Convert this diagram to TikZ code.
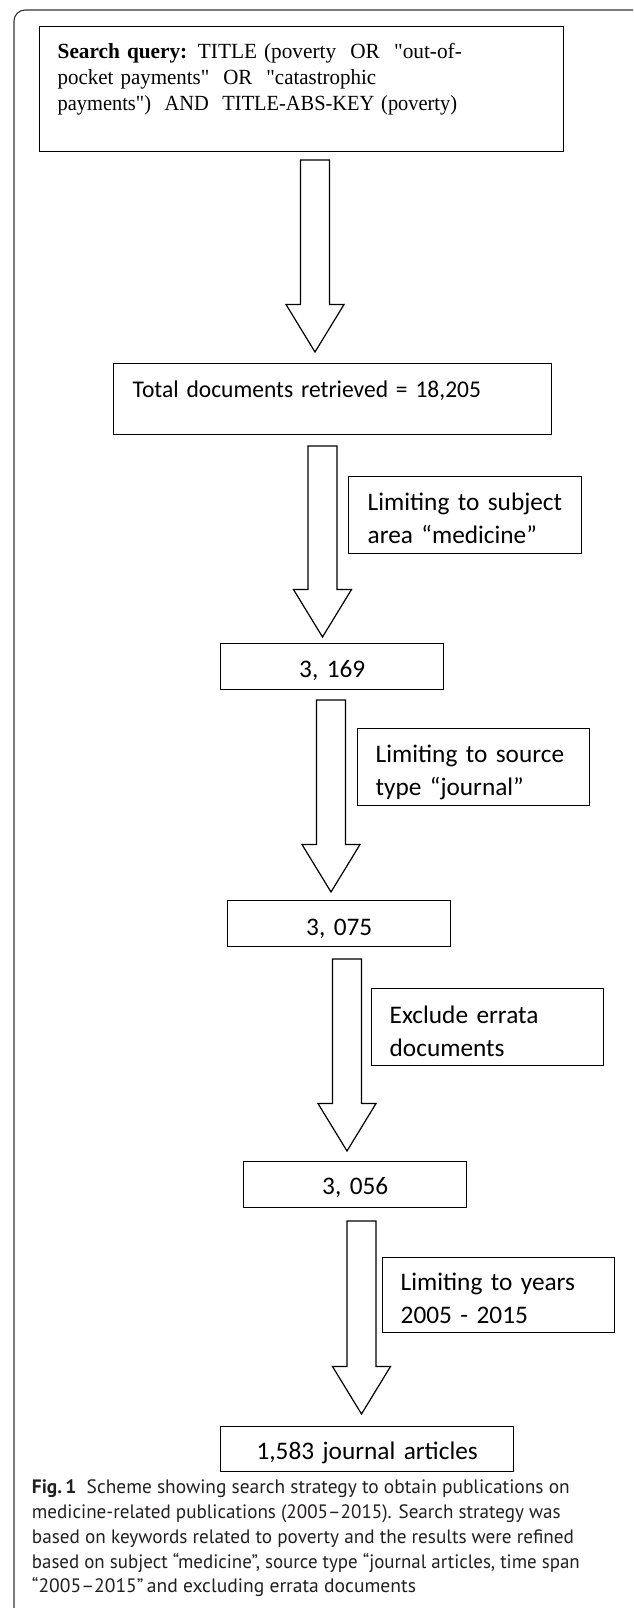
\documentclass[tikz,border=0pt]{standalone}
\usepackage{fontspec}
\usepackage{graphicx}
\setmainfont{Carlito}
\newfontfamily\tnrfont{Liberation Serif}
\newfontfamily\capfont{PT Sans}
\definecolor{captxt}{HTML}{231F20}
\newcommand\blockarrow[4]{% name, x, ytop, ytip
  \coordinate (#1s) at (#2,#3);
  \coordinate (#1e) at (#2,#4);
  \draw[barrow] (#2-14.5,#3) -- (#2+14.5,#3) -- (#2+14.5,#4-47.5) -- (#2+29,#4-47.5)
    -- (#1e) -- (#2-29,#4-47.5) -- (#2-14.5,#4-47.5) -- cycle;}
\newcommand\hsq[2]{\scalebox{#1}[1]{#2}}
\begin{document}
\begin{tikzpicture}[x=1pt,y=-1pt,
  boxed/.style={draw=black, line width=1.4pt, inner ysep=0pt, anchor=north west},
  calib/.style={font=\fontsize{25.3}{33}\selectfont},
  barrow/.style={draw=black, line width=1.2pt, fill=white, line join=miter},
  frameline/.style={draw=black!80, line width=1.1pt},
  capline/.style={anchor=base west, inner sep=0pt, text=captxt, font=\capfont\fontsize{19.4}{24}\selectfont}]
\useasboundingbox (0,0) rectangle (633,1608);
\fill[white] (0,0) rectangle (633,1608);
% frame
\draw[frameline, rounded corners=11pt] (14,1608) -- (14,10) -- (633,10);

% boxes
\node[boxed, inner xsep=18pt, text width=488pt, text height=32pt, text depth=93pt, align=left,
  font=\tnrfont\fontsize{21.6}{26}\selectfont] (b1) at (39,26)
  {\hsq{0.985}{\textbf{Search query:} TITLE (poverty\ \ OR\ \ "out-of-}\\
   \hsq{0.97}{pocket payments"\ \ OR\ \ "catastrophic}\\
   \hsq{0.945}{payments")\ \ AND\ \ TITLE-ABS-KEY (poverty)}};

\node[boxed, inner xsep=19pt, text width=400pt, text height=34pt, text depth=37pt, align=left,
  font=\fontsize{24}{33}\selectfont] (b2) at (113,363)
  {\hsq{0.98}{Total documents retrieved = 18,205}};

\node[boxed, calib, inner xsep=0pt, text width=223pt, text height=34pt, text depth=12pt, align=center] (b3) at (220,643) {3, 169};
\node[boxed, calib, inner xsep=0pt, text width=223pt, text height=35pt, text depth=11pt, align=center] (b4) at (227,900) {3, 075};
\node[boxed, calib, inner xsep=0pt, text width=223pt, text height=33pt, text depth=13pt, align=center] (b5) at (243,1161) {3, 056};
\node[boxed, calib, inner xsep=0pt, text width=293pt, text height=33pt, text depth=12pt, align=center] (b6) at (220,1426) {1,583 journal articles};

% side labels
\node[boxed, calib, inner xsep=19pt, text width=195pt, text height=34pt, text depth=43pt, align=left] (l1) at (348,476)
  {\mbox{Limiting to subject}\\\mbox{area “medicine”}};
\node[boxed, calib, inner xsep=18pt, text width=196pt, text height=34pt, text depth=43pt, align=left] (l2) at (357,728)
  {\mbox{Limiting to source}\\\mbox{type “journal”}};
\node[boxed, calib, inner xsep=18pt, text width=196pt, text height=35pt, text depth=42pt, align=left] (l3) at (371,988)
  {\mbox{Exclude errata}\\\mbox{documents}};
\node[boxed, calib, inner xsep=18pt, text width=196pt, text height=33pt, text depth=42pt, align=left] (l4) at (382,1257)
  {\mbox{Limiting to years}\\\mbox{2005 - 2015}};

% block arrows
\blockarrow{a1}{315}{160}{352}
\blockarrow{a2}{322.5}{446}{637}
\blockarrow{a3}{331}{700}{892}
\blockarrow{a4}{347}{959}{1151}
\blockarrow{a5}{361.5}{1221}{1414}

% caption
\node[capline] (c1) at (31.7,1493) {\textbf{Fig.\,1}\ \ Scheme showing search strategy to obtain publications on};
\node[capline] (c2) at (31.7,1518) {\hsq{0.985}{medicine-related publications (2005–2015). Search strategy was}};
\node[capline] (c3) at (31.7,1543) {\hsq{0.99}{based on keywords related to poverty and the results were refined}};
\node[capline] (c4) at (31.7,1568) {\hsq{0.976}{based on subject “medicine”, source type “journal articles, time span}};
\node[capline] (c5) at (31.7,1592) {\hsq{1.01}{“2005–2015”\,and excluding errata documents}};
\end{tikzpicture}
\end{document}
